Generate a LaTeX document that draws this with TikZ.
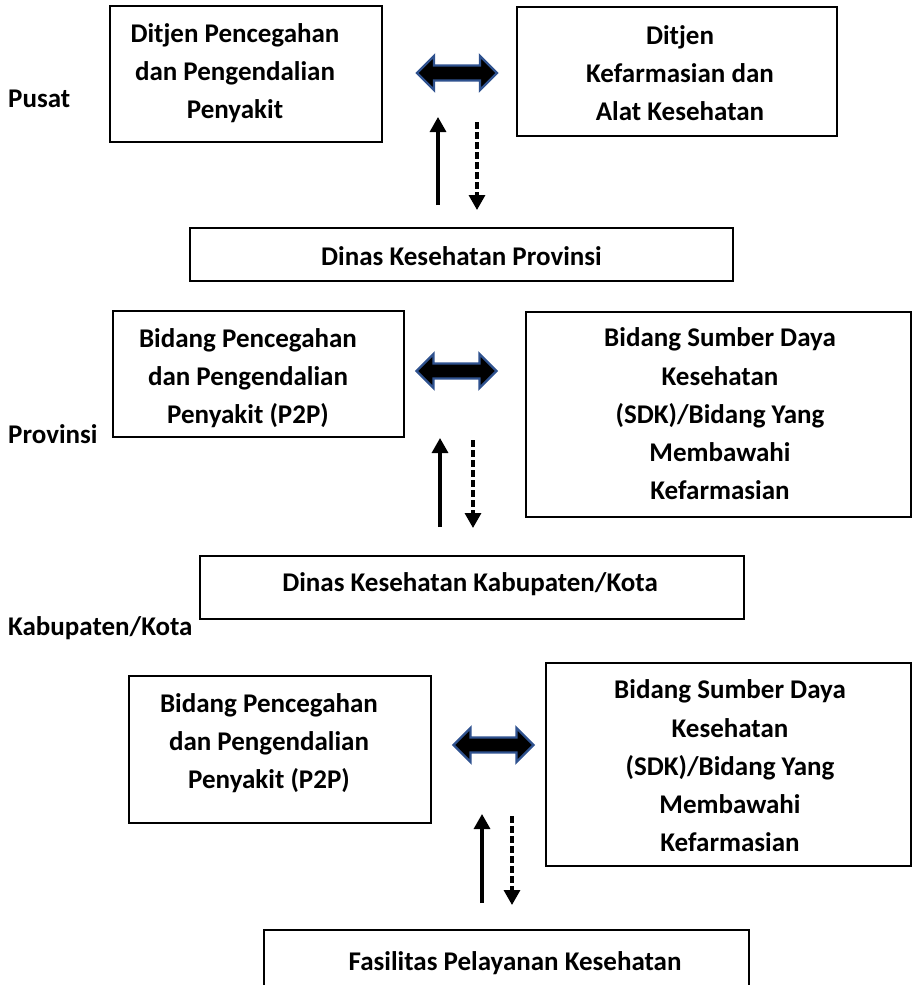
\documentclass[tikz,border=0pt]{standalone}
\usepackage{fontspec}
\setmainfont{Carlito}
\usetikzlibrary{arrows.meta}
\definecolor{arrowBlue}{RGB}{47,82,143}

\begin{document}
\begin{tikzpicture}
[x=1pt,y=-1pt,
box/.style={draw,line width=1.6pt,inner sep=0pt},
boxText/.style={font=\fontsize{27}{38.3}\selectfont\bfseries,align=center,inner sep=0pt},
levelLabel/.style={font=\fontsize{27}{30}\selectfont\bfseries,anchor=west,inner sep=0pt},
linkArrow/.pic={\draw[fill=black,draw=arrowBlue,line width=2.4pt,line join=miter]
  (-40,0) -- (-23,-17) -- (-23,-7.5) -- (23,-7.5) -- (23,-17) -- (40,0)
  -- (23,17) -- (23,7.5) -- (-23,7.5) -- (-23,17) -- cycle;},
upEnd/.style={line width=3.2pt,-{Triangle[length=15pt,width=16pt]}},
downEnd/.style={upEnd,dash pattern=on 7pt off 3pt}]
\useasboundingbox (0 , 0) rectangle (915 , 985);
\clip (0 , 0) rectangle (915 , 985);
\node[box,minimum width=272pt,minimum height=136pt] (1) at (246 , 74) {};
\node[box,minimum width=320pt,minimum height=129pt] (2) at (677 , 71.5) {};
\node[box,minimum width=543pt,minimum height=53pt] (3) at (461.5 , 254.5) {};
\node[box,minimum width=291pt,minimum height=126pt] (4) at (258.5 , 374) {};
\node[box,minimum width=385pt,minimum height=205pt] (5) at (718.5 , 414.5) {};
\node[box,minimum width=544pt,minimum height=63pt] (6) at (472 , 587.5) {};
\node[box,minimum width=302pt,minimum height=147pt] (7) at (280 , 749.5) {};
\node[box,minimum width=365pt,minimum height=203pt] (8) at (728.5 , 764.5) {};
\node[box,minimum width=485pt,minimum height=90pt] (9) at (506.5 , 975) {};
\node[boxText] (t1) at (235 , 73) {Ditjen Pencegahan\\dan Pengendalian\\Penyakit};
\node[boxText] (t2) at (680 , 73) {Ditjen\\Kefarmasian dan\\Alat Kesehatan};
\node[boxText] (t3) at (461.5 , 256) {Dinas Kesehatan Provinsi};
\node[boxText] (t4) at (248 , 378) {Bidang Pencegahan\\dan Pengendalian\\Penyakit (P2P)};
\node[boxText] (t5) at (720 , 414) {Bidang Sumber Daya\\Kesehatan\\(SDK)/Bidang Yang\\Membawahi\\Kefarmasian};
\node[boxText] (t6) at (470 , 584) {Dinas Kesehatan Kabupaten/Kota};
\node[boxText] (t7) at (269 , 743) {Bidang Pencegahan\\dan Pengendalian\\Penyakit (P2P)};
\node[boxText] (t8) at (730 , 766) {Bidang Sumber Daya\\Kesehatan\\(SDK)/Bidang Yang\\Membawahi\\Kefarmasian};
\node[boxText] (t9) at (515 , 963) {Fasilitas Pelayanan Kesehatan};
\node[levelLabel] (p) at (8 , 99) {Pusat};
\node[levelLabel] (q) at (8 , 434) {Provinsi};
\node[levelLabel] (r) at (8 , 628) {Kabupaten/Kota};
\pic (a1) at (457 , 73) {linkArrow};
\pic (a2) at (456.5 , 371) {linkArrow};
\pic (a3) at (493.5 , 745) {linkArrow};
\coordinate (11) at (438 , 205);
\coordinate (12) at (438 , 117);
\coordinate (13) at (477 , 122);
\coordinate (14) at (477 , 210);
\coordinate (15) at (440 , 527);
\coordinate (16) at (440 , 438);
\coordinate (17) at (473 , 440);
\coordinate (18) at (473 , 528);
\coordinate (19) at (482 , 903);
\coordinate (20) at (482 , 814);
\coordinate (21) at (512 , 816);
\coordinate (22) at (512 , 905);
\draw[upEnd](11) -- (12) ;
\draw[downEnd](13) -- (14) ;
\draw[upEnd](15) -- (16) ;
\draw[downEnd](17) -- (18) ;
\draw[upEnd](19) -- (20) ;
\draw[downEnd](21) -- (22) ;
\end{tikzpicture}
\end{document}
